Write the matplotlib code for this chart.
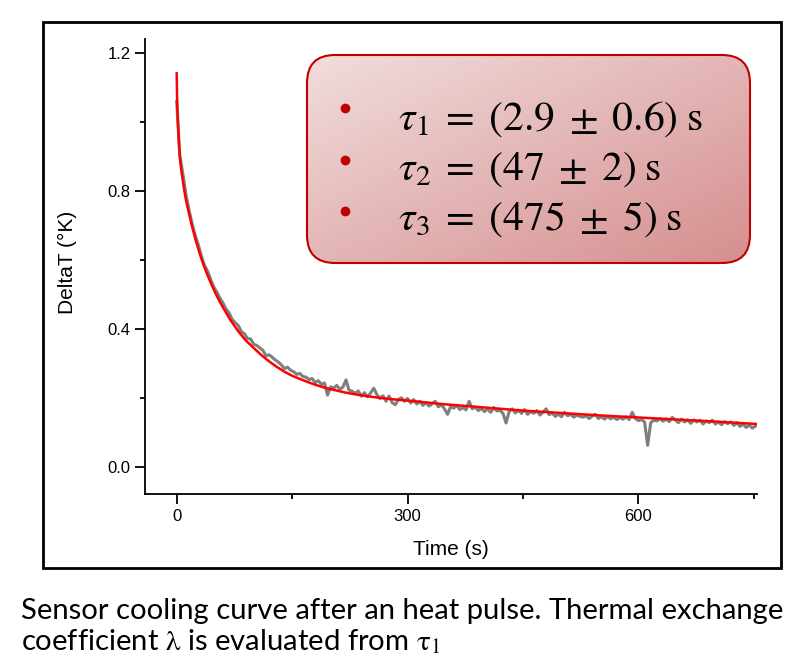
import numpy as np
import matplotlib
matplotlib.use("Agg")
import matplotlib.pyplot as plt
from matplotlib.patches import FancyBboxPatch, Rectangle
from matplotlib.ticker import MultipleLocator

plt.rcParams["mathtext.fontset"] = "stix"
plt.rcParams["font.family"] = ["Liberation Sans", "DejaVu Sans"]

# three-exponential fit of the cooling curve
fit_t = [0, 0.5, 1, 2, 3, 4, 6, 8, 10, 12,
         15, 20, 25, 30, 35, 40, 45, 50, 55, 60,
         70, 80, 90, 100, 110, 120, 130, 140, 150, 160,
         170, 180, 190, 200, 220, 240, 260, 280, 300, 350,
         400, 450, 500, 550, 600, 650, 700, 755]
fit_dT = [1.142, 1.07, 1.03, 0.98, 0.935, 0.90, 0.86, 0.83, 0.80, 0.775,
          0.745, 0.697, 0.655, 0.618, 0.585, 0.556, 0.530, 0.505, 0.483, 0.463,
          0.425, 0.393, 0.366, 0.345, 0.324, 0.306, 0.290, 0.276, 0.264, 0.255,
          0.246, 0.238, 0.231, 0.225, 0.215, 0.207, 0.201, 0.196, 0.192, 0.181,
          0.172, 0.163, 0.156, 0.149, 0.143, 0.137, 0.131, 0.124]

# measured sensor signal, one sample every 4 s
time_s = np.arange(0, 756, 4)
delta_T = [
    1.06, 0.905, 0.85, 0.79, 0.745, 0.705, 0.672, 0.645, 0.612, 0.585,
    0.568, 0.545, 0.522, 0.508, 0.49, 0.476, 0.458, 0.447, 0.428, 0.418,
    0.41, 0.392, 0.386, 0.372, 0.371, 0.356, 0.352, 0.345, 0.338, 0.322,
    0.325, 0.318, 0.31, 0.304, 0.296, 0.285, 0.289, 0.28, 0.276, 0.268,
    0.271, 0.262, 0.26, 0.253, 0.256, 0.244, 0.25, 0.239, 0.243, 0.208,
    0.232, 0.228, 0.236, 0.225, 0.231, 0.252, 0.222, 0.219, 0.213, 0.22,
    0.205, 0.215, 0.203, 0.214, 0.228, 0.21, 0.198, 0.206, 0.19, 0.205,
    0.186, 0.18, 0.195, 0.2, 0.19, 0.198, 0.185, 0.195, 0.182, 0.19,
    0.178, 0.186, 0.176, 0.183, 0.19, 0.174, 0.18, 0.168, 0.152, 0.175,
    0.17, 0.178, 0.166, 0.172, 0.165, 0.19, 0.168, 0.173, 0.163, 0.169,
    0.16, 0.168, 0.158, 0.172, 0.162, 0.164, 0.155, 0.127, 0.16, 0.168,
    0.156, 0.164, 0.155, 0.166, 0.152, 0.16, 0.155, 0.163, 0.15, 0.158,
    0.168, 0.151, 0.156, 0.146, 0.153, 0.145, 0.158, 0.148, 0.152, 0.144,
    0.15, 0.146, 0.144, 0.148, 0.14, 0.147, 0.152, 0.14, 0.145, 0.138,
    0.146, 0.139, 0.144, 0.137, 0.143, 0.138, 0.145, 0.137, 0.158, 0.14,
    0.134, 0.137, 0.13, 0.062, 0.128, 0.135, 0.133, 0.14, 0.132, 0.139,
    0.131, 0.143, 0.136, 0.128, 0.138, 0.13, 0.136, 0.126, 0.136, 0.13,
    0.135, 0.124, 0.133, 0.128, 0.135, 0.124, 0.13, 0.122, 0.131, 0.125,
    0.13, 0.12, 0.128, 0.117, 0.124, 0.114, 0.121, 0.112, 0.118,
]

x_ticks = [0, 300, 600]
y_ticks = [0.0, 0.4, 0.8, 1.2]
tau_lines = [r"$\tau_1\;=\;(2.9\;\pm\;0.6)\;\mathrm{s}$",
             r"$\tau_2\;=\;(47\;\pm\;2)\;\mathrm{s}$",
             r"$\tau_3\;=\;(475\;\pm\;5)\;\mathrm{s}$"]
caption = ["Sensor cooling curve after an heat pulse. Thermal exchange",
           r"coefficient $\mathrm{\lambda}$ is evaluated from $\mathrm{\tau}_1$"]

W, H = 795, 667
fig = plt.figure(figsize=(W / 100, H / 100), dpi=100)
ax = fig.add_axes([145.3 / W, 1 - 494.3 / H, 612 / W, 455.3 / H])

ax.plot(time_s, delta_T, color="#7f7f7f", lw=2.2, zorder=2)
ax.plot(fit_t, fit_dT, color="#ff0000", lw=1.8, zorder=3)

ax.set_xlim(-40.8, 754.5)
ax.set_ylim(-0.08, 1.2415)
ax.set_xticks(x_ticks)
ax.set_yticks(y_ticks)
ax.set_yticklabels([f"{v:.1f}" for v in y_ticks])
ax.xaxis.set_minor_locator(MultipleLocator(150))
ax.yaxis.set_minor_locator(MultipleLocator(0.2))
ax.tick_params(which="both", direction="out", width=1.3, labelsize=12, pad=3.5)
ax.tick_params(which="major", length=7)
ax.tick_params(which="minor", length=3.5)
for side in ("top", "right"):
    ax.spines[side].set_visible(False)
for side in ("left", "bottom"):
    ax.spines[side].set_linewidth(1.3)

ax.set_xlabel("Time (s)", fontsize=15)
ax.set_ylabel("DeltaT (°K)", fontsize=15)
ax.xaxis.set_label_coords(0.5, -0.1)
ax.yaxis.set_label_coords(-0.112, 0.51)

# overlay in pixel units for the frame, the results box and the caption
ov = fig.add_axes([0, 0, 1, 1])
ov.set_xlim(0, W)
ov.set_ylim(H, 0)
ov.axis("off")

ov.add_patch(Rectangle((43, 22), 738, 546, fill=False, ec="black", lw=2))

bx0, by0, bx1, by1 = 307, 55, 750, 263
box = FancyBboxPatch((bx0, by0), bx1 - bx0, by1 - by0,
                     boxstyle="round,pad=0,rounding_size=28",
                     fc="none", ec="#c00000", lw=1.5, zorder=3)
ov.add_patch(box)
gx, gy = np.meshgrid(np.linspace(0, 1, 220), np.linspace(0, 1, 110))
g = ((gx + gy) / 2)[..., None]
c_light = np.array([0xf1, 0xdd, 0xdd]) / 255
c_dark = np.array([0xd6, 0x8e, 0x8e]) / 255
im = ov.imshow(c_light + (c_dark - c_light) * g, extent=(bx0, bx1, by1, by0),
               interpolation="bilinear", aspect="auto", zorder=2)
im.set_clip_path(box)
ov.set_xlim(0, W)
ov.set_ylim(H, 0)

for yb, yt, line in zip([108, 160, 211], [129.5, 179.5, 230], tau_lines):
    ov.plot([345], [yb], "o", color="#c00000", ms=6, zorder=4)
    ov.text(398, yt, line, fontsize=30, ha="left", va="baseline", zorder=4)

cap = [ov.text(20.7, yy, s, fontsize=20, family="Lato", ha="left", va="baseline")
       for yy, s in zip([618.5, 650], caption)]
fig.canvas.draw()
wpx = cap[0].get_window_extent().width
for t in cap:
    t.set_fontsize(20 * 766 / wpx)

fig.savefig("out.png", dpi=100)
